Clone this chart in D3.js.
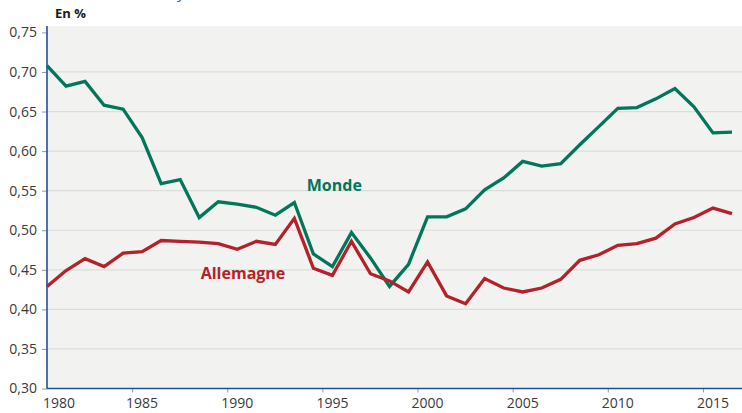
<!DOCTYPE html>
<html>
<head>
<meta charset="utf-8">
<script src="https://cdn.jsdelivr.net/npm/d3@7"></script>
<style>
    body { margin: 0; background: #ffffff; }
    #chart { width: 742px; height: 413px; }
    text { font-family: "Open Sans", "Noto Sans", sans-serif; }
</style>
</head>
<body>
<div id="chart"></div>
<script>
const years = d3.range(1980, 2017);

const monde = [
    0.708, 0.682, 0.688, 0.658, 0.653, 0.617, 0.559, 0.564, 0.516, 0.536,
    0.533, 0.529, 0.519, 0.535, 0.470, 0.454, 0.497, 0.465, 0.429, 0.457,
    0.517, 0.517, 0.527, 0.551, 0.566, 0.587, 0.581, 0.584, 0.608, 0.631,
    0.654, 0.655, 0.666, 0.679, 0.656, 0.623, 0.624
];

const allemagne = [
    0.429, 0.449, 0.464, 0.454, 0.471, 0.473, 0.487, 0.486, 0.485, 0.483,
    0.476, 0.486, 0.482, 0.515, 0.452, 0.443, 0.486, 0.445, 0.436, 0.422,
    0.460, 0.417, 0.407, 0.439, 0.427, 0.422, 0.427, 0.438, 0.462, 0.469,
    0.481, 0.483, 0.490, 0.508, 0.516, 0.528, 0.521
];

const yTicks = [0.30, 0.35, 0.40, 0.45, 0.50, 0.55, 0.60, 0.65, 0.70, 0.75];
const xTicks = [1980, 1985, 1990, 1995, 2000, 2005, 2010, 2015];

const series = [
    {name: 'Monde', values: monde, color: '#00765b', label: {year: 1995.1, value: 0.5495}},
    {name: 'Allemagne', values: allemagne, color: '#b42129', label: {year: 1990.3, value: 0.438}}
];

let vis = {};
vis.width = 742;
vis.height = 413;
vis.plotLeft = 47;
vis.plotTop = 26;
vis.plotBottom = 388.5;

vis.svg = d3.select('#chart').append('svg')
    .attr('width', vis.width)
    .attr('height', vis.height);

// Scales
vis.x = d3.scaleLinear()
    .domain([1980, 2016])
    .range([vis.plotLeft, 732]);

vis.y = d3.scaleLinear()
    .domain([0.30, 0.75])
    .range([vis.plotBottom, 32.4]);

// Plot background
vis.svg.append('rect')
    .attr('x', vis.plotLeft)
    .attr('y', vis.plotTop)
    .attr('width', vis.width - vis.plotLeft)
    .attr('height', vis.plotBottom - vis.plotTop)
    .attr('fill', '#f2f2f0');

// Grid lines
vis.svg.append('g')
    .selectAll('line')
    .data(yTicks.slice(1, -1))
    .enter().append('line')
    .attr('x1', vis.plotLeft)
    .attr('x2', vis.width)
    .attr('y1', d => vis.y(d))
    .attr('y2', d => vis.y(d))
    .attr('stroke', '#dcdcda')
    .attr('stroke-width', 1.2);

// Y axis
const fmt = d => d3.format('.2f')(d).replace('.', ',');
vis.yAxis = d3.axisLeft(vis.y)
    .tickValues(yTicks)
    .tickFormat(fmt)
    .tickSize(5)
    .tickPadding(5);

vis.yAxisGroup = vis.svg.append('g')
    .attr('transform', `translate(${vis.plotLeft}, 0)`)
    .call(vis.yAxis);
vis.yAxisGroup.select('.domain').remove();
vis.yAxisGroup.selectAll('line').attr('stroke', '#9a9a9a');
vis.yAxisGroup.selectAll('text')
    .style('font-size', '14px')
    .style('fill', '#3a3a3a');

// X axis: ticks sit between the years, labels on the years
vis.xAxisGroup = vis.svg.append('g')
    .attr('transform', `translate(0, ${vis.plotBottom})`);

vis.xAxisGroup.selectAll('line')
    .data(xTicks.filter(d => vis.x(d - 0.5) > vis.plotLeft))
    .enter().append('line')
    .attr('x1', d => vis.x(d - 0.5))
    .attr('x2', d => vis.x(d - 0.5))
    .attr('y1', 0)
    .attr('y2', 4)
    .attr('stroke', '#9a9a9a');

vis.xAxisGroup.selectAll('text')
    .data(xTicks)
    .enter().append('text')
    .attr('x', d => d === 1980 ? vis.x(d) + 12 : vis.x(d))
    .attr('y', 19)
    .attr('text-anchor', 'middle')
    .style('font-size', '14px')
    .style('fill', '#3a3a3a')
    .text(d => d);

// Axis lines
vis.svg.append('line')
    .attr('x1', vis.plotLeft).attr('x2', vis.width)
    .attr('y1', vis.plotBottom).attr('y2', vis.plotBottom)
    .attr('stroke', '#1f4e9c')
    .attr('stroke-width', 1.6);

vis.svg.append('line')
    .attr('x1', vis.plotLeft).attr('x2', vis.plotLeft)
    .attr('y1', vis.plotTop).attr('y2', vis.plotBottom)
    .attr('stroke', '#1f4e9c')
    .attr('stroke-width', 1.6);

// Lines
const line = d3.line()
    .x((d, i) => vis.x(years[i]))
    .y(d => vis.y(d));

vis.svg.selectAll('.series')
    .data(series)
    .enter().append('path')
    .attr('class', 'series')
    .attr('d', d => line(d.values))
    .attr('fill', 'none')
    .attr('stroke', d => d.color)
    .attr('stroke-width', 3.3)
    .attr('stroke-linejoin', 'miter');

// Series labels
vis.svg.selectAll('.series-label')
    .data(series)
    .enter().append('text')
    .attr('class', 'series-label')
    .attr('x', d => vis.x(d.label.year))
    .attr('y', d => vis.y(d.label.value))
    .attr('text-anchor', 'middle')
    .style('font-size', '16px')
    .style('font-weight', 'bold')
    .style('fill', d => d.color)
    .text(d => d.name);

// Unit label
vis.svg.append('text')
    .attr('x', 55)
    .attr('y', 18)
    .style('font-size', '13px')
    .style('font-weight', 'bold')
    .style('fill', '#1a1a1a')
    .text('En %');

// Cut-off title above the chart
vis.svg.append('text')
    .attr('x', 177)
    .attr('y', -2)
    .style('font-size', '15px')
    .style('fill', '#1f5fb0')
    .text('y');
</script>
</body>
</html>
